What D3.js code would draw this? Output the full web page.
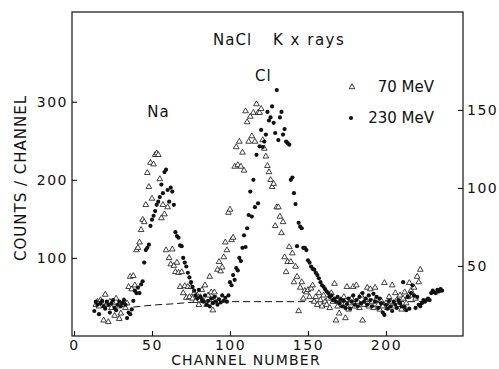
<!DOCTYPE html>
<html>
<head>
<meta charset="utf-8">
<script src="https://cdn.jsdelivr.net/npm/d3@7"></script>
<style>
  body { margin: 0; background: #fff; }
  svg text { font-family: "DejaVu Sans", sans-serif; fill: #111; }
</style>
</head>
<body>
<div id="chart"></div>
<script>
// 70 MeV (open triangles), one value per channel starting at start70
const start70 = 14;
const counts70 = [
  40,44,38,46,42,20,53,40,18,44,36,42,26,48,38,22,29,40,45,36,42,63,76,60,
  77,65,110,113,120,136,149,146,168,209,191,222,176,220,232,234,232,201,151,168,156,110,165,
  100,92,111,90,82,94,81,63,82,55,64,49,63,50,63,48,55,45,52,40,
  50,59,45,65,40,52,76,56,33,56,48,85,95,83,88,101,120,110,158,162,
  123,126,217,242,219,249,217,235,212,288,274,249,281,256,286,249,297,286,286,291,
  251,240,230,218,210,200,191,195,141,165,165,153,132,146,101,82,95,114,95,106,
  69,89,76,32,62,69,48,58,56,59,50,61,65,44,50,40,55,46,38,52,
  44,40,48,36,55,44,67,20,38,29,46,40,50,23,63,34,42,48,63,38,
  65,44,36,52,20,40,46,62,38,60,44,36,62,48,40,34,45,38,68,42,
  36,50,44,65,38,55,46,40,52,34,48,56,42,50,68,58,52,62,48,76,69,85
];

// 230 MeV (filled dots)
const start230 = 13;
const counts230 = [
  32,44,40,28,42,45,38,35,44,40,30,42,46,36,33,40,44,38,42,46,40,23,30,28,34,
  45,58,55,62,55,66,70,94,110,113,117,141,149,154,160,168,172,178,194,183,210,213,187,
  172,190,185,168,133,128,126,116,115,100,94,89,81,75,69,63,58,52,48,59,
  50,46,44,52,40,45,38,48,42,50,44,40,47,43,52,45,49,44,52,69,
  65,78,72,87,84,100,96,113,129,114,138,155,185,153,200,165,232,170,243,264,
  242,249,258,287,276,280,294,273,260,315,251,280,287,258,265,249,247,245,200,203,
  183,169,115,145,140,138,113,113,110,97,94,89,86,85,81,78,74,69,65,63,
  60,57,55,50,52,46,48,44,50,42,47,38,45,36,41,48,35,44,52,40,
  46,38,50,42,55,44,48,40,52,46,38,54,44,50,36,48,42,30,27,40,
  35,45,38,32,44,40,36,46,42,38,69,37,33,50,35,55,65,52,36,50,
  40,38,42,46,44,46,48,46,55,58,56,55,59,57,60,58
];

// dashed background line
const bgChannels = [38, 50, 62, 75, 90, 226];
const bgCounts = [37, 39.5, 41, 43, 44, 44];

const xTicks = [0, 50, 100, 150, 200];
const leftTicks = [100, 200, 300];
const rightTicks = [50, 100, 150];

const peakLabels = [
  { text: "Na", ch: 47, count: 281 },
  { text: "Cl", ch: 116, count: 326 }
];
const legendItems = [
  { label: "70 MeV", kind: "tri" },
  { label: "230 MeV", kind: "dot" }
];

const width = 499, height = 369;
const svg = d3.select("#chart").append("svg")
  .attr("width", width).attr("height", height);

const x = d3.scaleLinear().domain([-1.3, 249.4]).range([72, 463]);
const y = d3.scaleLinear().domain([0, 415]).range([336, 12]);
const yRight = d3.scaleLinear().domain([5.1, 212.8]).range([336, 12]);

const pts70 = counts70.map((c, i) => ({ ch: start70 + i, c }));
const pts230 = counts230.map((c, i) => ({ ch: start230 + i, c }));

// frame
svg.append("rect")
  .attr("x", x.range()[0]).attr("y", y.range()[1])
  .attr("width", x.range()[1] - x.range()[0])
  .attr("height", y.range()[0] - y.range()[1])
  .attr("fill", "none").attr("stroke", "#111").attr("stroke-width", 1.2);

function styleAxis(g) {
  g.select(".domain").remove();
  g.selectAll("line").attr("stroke", "#111").attr("stroke-width", 1.1);
  g.selectAll("text")
    .attr("font-family", "DejaVu Sans, sans-serif")
    .attr("font-size", 14)
    .attr("letter-spacing", 1.5)
    .attr("fill", "#111");
}

svg.append("g")
  .attr("transform", `translate(${x.range()[0]},0)`)
  .call(d3.axisLeft(y).tickValues(leftTicks).tickSize(-5).tickPadding(4).tickFormat(d3.format("d")))
  .call(styleAxis);

svg.append("g")
  .attr("transform", `translate(0,${y.range()[0]})`)
  .call(d3.axisBottom(x).tickValues(xTicks).tickSize(-5).tickPadding(4).tickFormat(d3.format("d")))
  .call(styleAxis);

svg.append("g")
  .attr("transform", `translate(${x.range()[1]},0)`)
  .call(d3.axisRight(yRight).tickValues(rightTicks).tickSize(-5).tickPadding(4).tickFormat(d3.format("d")))
  .call(styleAxis);

// dashed background
const bgLine = d3.line()
  .x((d, i) => x(bgChannels[i]))
  .y(d => y(d))
  .curve(d3.curveMonotoneX);
svg.append("path")
  .attr("d", bgLine(bgCounts))
  .attr("fill", "none").attr("stroke", "#111")
  .attr("stroke-width", 1).attr("stroke-dasharray", "7,4");

const tri = d3.symbol().type(d3.symbolTriangle).size(14);

svg.append("g").selectAll("path")
  .data(pts70).join("path")
  .attr("d", tri)
  .attr("transform", d => `translate(${x(d.ch)},${y(d.c)})`)
  .attr("fill", "#fff").attr("stroke", "#111").attr("stroke-width", 0.8);

svg.append("g").selectAll("circle")
  .data(pts230).join("circle")
  .attr("cx", d => x(d.ch)).attr("cy", d => y(d.c))
  .attr("r", 2.1).attr("fill", "#111");

// titles and labels
svg.append("text").attr("x", 213).attr("y", 45)
  .attr("font-size", 15).attr("letter-spacing", 1).text("NaCl");
svg.append("text").attr("x", 273).attr("y", 45)
  .attr("font-size", 15).attr("letter-spacing", 1.5).text("K x rays");

svg.append("g").selectAll("text")
  .data(peakLabels).join("text")
  .attr("x", d => x(d.ch)).attr("y", d => y(d.count))
  .attr("font-size", 15).attr("letter-spacing", 1)
  .text(d => d.text);

const leg = svg.append("g").selectAll("g")
  .data(legendItems).join("g")
  .attr("transform", (d, i) => `translate(0,${87 + i * 31})`);
leg.filter(d => d.kind === "tri").append("path")
  .attr("d", tri).attr("transform", "translate(352,0)")
  .attr("fill", "#fff").attr("stroke", "#111").attr("stroke-width", 0.8);
leg.filter(d => d.kind === "dot").append("circle")
  .attr("cx", 351).attr("cy", 0).attr("r", 2.1).attr("fill", "#111");
leg.append("text")
  .attr("x", 434).attr("y", 5)
  .attr("text-anchor", "end").attr("font-size", 15)
  .text(d => d.label);

svg.append("text")
  .attr("transform", "translate(26,178) rotate(-90)")
  .attr("text-anchor", "middle").attr("font-size", 15).attr("letter-spacing", 1)
  .text("COUNTS / CHANNEL");

svg.append("text")
  .attr("x", 246).attr("y", 365)
  .attr("text-anchor", "middle").attr("font-size", 14).attr("letter-spacing", 1.2)
  .text("CHANNEL NUMBER");
</script>
</body>
</html>
